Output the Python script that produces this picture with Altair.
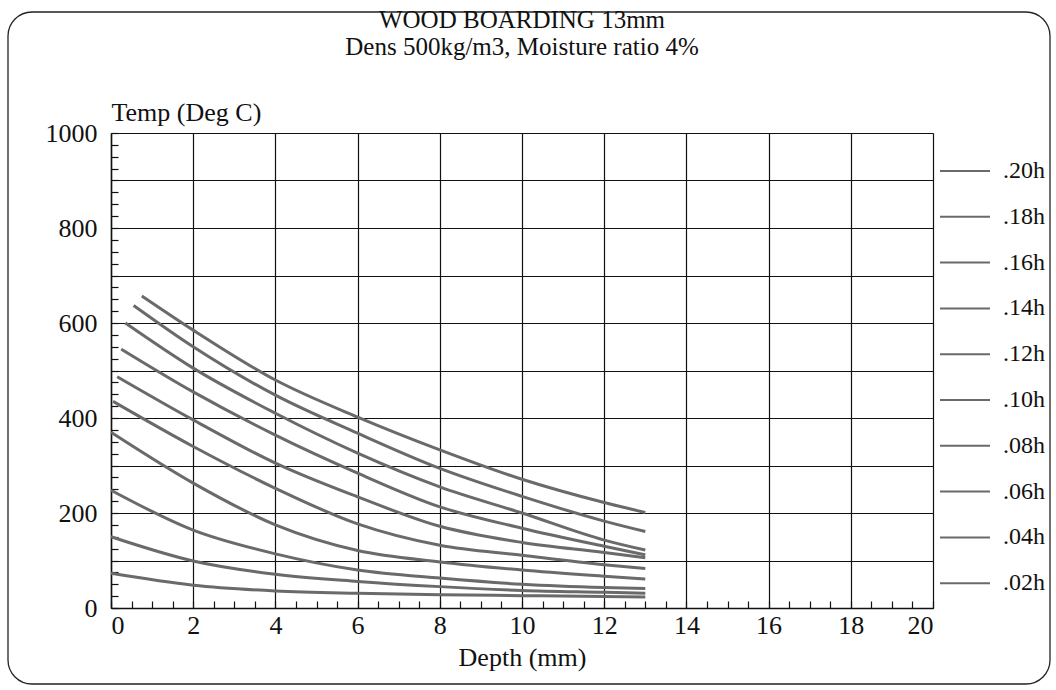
import altair as alt
import pandas as pd

# Time labels (hours) - top curve first
times = [".20h", ".18h", ".16h", ".14h", ".12h", ".10h", ".08h", ".06h", ".04h", ".02h"]
# start depth of each curve (mm)
start_depth = [0.75, 0.55, 0.35, 0.25, 0.15, 0.05, 0.0, 0.0, 0.0, 0.0]
# common depths after the start point (mm)
depths = [2, 4, 6, 8, 10, 12, 13]
# temperatures (deg C): first value at start_depth, then at depths
t20 = [657, 585, 480, 402, 333, 271, 222, 201]
t18 = [637, 550, 448, 368, 294, 235, 183, 161]
t16 = [600, 505, 410, 326, 255, 200, 143, 122]
t14 = [545, 455, 364, 284, 213, 168, 130, 112]
t12 = [487, 396, 305, 234, 172, 138, 117, 106]
t10 = [435, 340, 252, 177, 132, 111, 91, 83]
t08 = [370, 263, 175, 121, 97, 80, 67, 61]
t06 = [248, 164, 114, 80, 63, 50, 43, 41]
t04 = [150, 99, 71, 56, 45, 37, 33, 31]
t02 = [73, 48, 36, 31, 28, 26, 24, 23]
temps = [t20, t18, t16, t14, t12, t10, t08, t06, t04, t02]

x_major = [0, 2, 4, 6, 8, 10, 12, 14, 16, 18, 20]
x_minor = [i * 0.5 for i in range(41)]
y_minor = [i * 25 for i in range(41)]

rows = []
for name, s, tv in zip(times, start_depth, temps):
    for d, t in zip([s] + depths, tv):
        rows.append({"depth": d, "temp": t, "time": name})
df = pd.DataFrame(rows)

FONT = "Liberation Serif"
W, H = 822, 475

xscale = alt.Scale(domain=[0, 20], nice=False, zero=False)
yscale = alt.Scale(domain=[0, 1000], nice=False, zero=False)

lines = alt.Chart(df).mark_line(strokeWidth=3, interpolate="monotone").encode(
    x=alt.X("depth:Q", scale=xscale,
            axis=alt.Axis(orient="bottom", values=x_major, grid=True, gridColor="#111",
                          gridWidth=1.2, ticks=False, labelPadding=4, labelFontSize=26,
                          labelFont=FONT, labelColor="#111", title="Depth (mm)",
                          titleFont=FONT, titleFontSize=26, titleFontWeight="normal",
                          titleColor="#111", titlePadding=6, domainColor="#111",
                          domainWidth=1.5, format="d")),
    y=alt.Y("temp:Q", scale=yscale,
            axis=alt.Axis(orient="left", values=list(range(0, 1001, 100)), grid=True,
                          gridColor="#111", gridWidth=1.2, ticks=False, labelPadding=14,
                          labelFontSize=26, labelFont=FONT, labelColor="#111",
                          labelExpr="datum.value % 200 == 0 ? datum.label : ''",
                          title="Temp (Deg C)", titleAngle=0, titleX=0, titleY=-8,
                          titleAlign="left", titleBaseline="bottom", titleFont=FONT,
                          titleFontSize=26, titleFontWeight="normal", titleColor="#111",
                          domainColor="#111", domainWidth=1.5, format="d")),
    color=alt.Color("time:N",
                    scale=alt.Scale(domain=times, range=["#6a6a6a"] * len(times)),
                    legend=alt.Legend(title=None, orient="none", legendX=828, legendY=12,
                                      symbolType="stroke", symbolSize=2500,
                                      symbolStrokeWidth=2, labelFont=FONT,
                                      labelFontSize=24, labelColor="#111", labelOffset=12,
                                      rowPadding=7.8, padding=0)),
)

minor = alt.Chart(df).mark_point(opacity=0).encode(
    x=alt.X("depth:Q", scale=xscale,
            axis=alt.Axis(orient="top", offset=-H, values=x_minor, tickSize=7,
                          tickColor="#111", tickWidth=1.2, labels=False, domain=False,
                          grid=False, title=None)),
    y=alt.Y("temp:Q", scale=yscale,
            axis=alt.Axis(orient="right", offset=-W, values=y_minor, tickSize=7,
                          tickColor="#111", tickWidth=1.2, labels=False, domain=False,
                          grid=False, title=None)),
)

frame = alt.Chart(pd.DataFrame({"f": [0]})).mark_rect(
    fill=None, stroke="#222", strokeWidth=1.3, cornerRadius=24
).encode(
    x=alt.value(-103), x2=alt.value(939), y=alt.value(-121), y2=alt.value(551)
)

chart = alt.layer(frame, lines, minor).properties(
    width=W, height=H,
    title=alt.TitleParams(
        text=["WOOD BOARDING 13mm", "Dens 500kg/m3, Moisture ratio 4%"],
        font=FONT, fontSize=25, fontWeight="normal", color="#111",
        anchor="middle", frame="group", lineHeight=27, offset=-74,
        baseline="bottom",
    ),
    autosize=alt.AutoSizeParams(type="none"),
    padding={"left": 111, "top": 133, "right": 123, "bottom": 82},
).configure_view(stroke="#111", strokeWidth=1.5).configure(background="white")

chart.save("out.html", embed_options={"renderer": "svg", "actions": False})
